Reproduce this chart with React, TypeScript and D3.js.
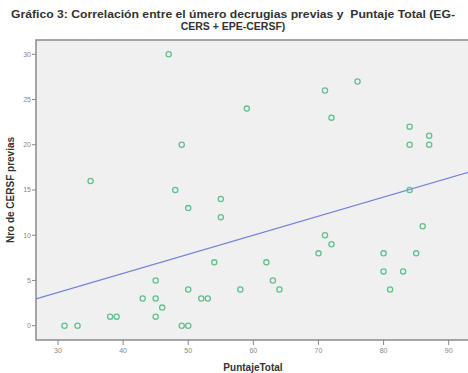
import * as d3 from "d3";

// Puntaje Total vs Nro de CERSF previas
const puntaje = [
  31, 33, 35, 38, 39, 43, 45, 45, 45, 46, 47, 48, 49, 49, 50, 50, 50, 52, 53, 54,
  55, 55, 58, 59, 62, 63, 64, 70, 71, 71, 72, 72, 76, 80, 80, 81, 83, 84, 84, 84,
  85, 86, 87, 87,
];
const previas = [
  0, 0, 16, 1, 1, 3, 5, 3, 1, 2, 30, 15, 20, 0, 13, 4, 0, 3, 3, 7,
  14, 12, 4, 24, 7, 5, 4, 8, 26, 10, 23, 9, 27, 8, 6, 4, 6, 22, 20, 15,
  8, 11, 21, 20,
];

// recta de ajuste lineal (estimada)
const fitIntercept = -2.66;
const fitSlope = 0.211;

const xTicks = [30, 40, 50, 60, 70, 80, 90];
const yTicks = [0, 5, 10, 15, 20, 25, 30];

const titleLines = [
  "Gráfico 3: Correlación entre el úmero decrugias previas y  Puntaje Total (EG-",
  "CERS + EPE-CERSF)",
];
const xLabel = "PuntajeTotal";
const yLabel = "Nro de CERSF previas";

const width = 468;
const height = 373;
const left = 36;
const top = 40;
const bottom = 340;
const right = 470;

export default function App() {
  const x = d3.scaleLinear().domain([30, 90]).range([58, 448.7]);
  const y = d3.scaleLinear().domain([0, 30]).range([325.7, 54.3]);
  const xMin = x.invert(left);
  const xMax = x.invert(right);
  const line = d3.line<number>()
    .x((d) => x(d))
    .y((d) => y(fitIntercept + fitSlope * d));

  const font = "Arial, 'Liberation Sans', sans-serif";

  return (
    <svg
      width={width}
      height={height}
      style={{ position: "absolute", left: 0, top: 0, background: "#fff" }}
      fontFamily={font}
    >
      {titleLines.map((t, i) => (
        <text
          key={i}
          x={233}
          y={18 + i * 11.5}
          textAnchor="middle"
          fontSize={10.5}
          fontWeight="bold"
          fill="#333"
          style={{ whiteSpace: "pre" }}
          textLength={i === 0 ? 444 : undefined}
          lengthAdjust="spacingAndGlyphs"
        >
          {t}
        </text>
      ))}

      <rect x={left} y={top} width={right - left} height={bottom - top} fill="#f0f0f0" />
      <path
        d={`M${right},${top}H${left}V${bottom}H${right}`}
        fill="none"
        stroke="#8a8a8a"
        strokeWidth={1.5}
      />

      {yTicks.map((t) => (
        <g key={t} transform={`translate(0,${y(t)})`}>
          <line x1={left - 4} x2={left} stroke="#888" />
          <text x={left - 5} dy="0.35em" textAnchor="end" fontSize={7} fill="#888">
            {t}
          </text>
        </g>
      ))}
      {xTicks.map((t) => (
        <g key={t} transform={`translate(${x(t)},0)`}>
          <line y1={bottom} y2={bottom + 5} stroke="#888" />
          <text y={bottom + 13} textAnchor="middle" fontSize={7} fill="#888">
            {t}
          </text>
        </g>
      ))}

      <path
        d={line([xMin, xMax]) ?? ""}
        fill="none"
        stroke="#7585d8"
        strokeWidth={1.2}
      />

      {puntaje.map((p, i) => (
        <circle
          key={i}
          cx={x(p)}
          cy={y(previas[i])}
          r={2.6}
          fill="none"
          stroke="#5fc28f"
          strokeWidth={1.3}
        />
      ))}

      <text
        x={253}
        y={371}
        textAnchor="middle"
        fontSize={10}
        fontWeight="bold"
        fill="#333"
      >
        {xLabel}
      </text>
      <text
        transform={`translate(14,190) rotate(-90)`}
        textAnchor="middle"
        fontSize={10}
        fontWeight="bold"
        fill="#333"
      >
        {yLabel}
      </text>
    </svg>
  );
}
